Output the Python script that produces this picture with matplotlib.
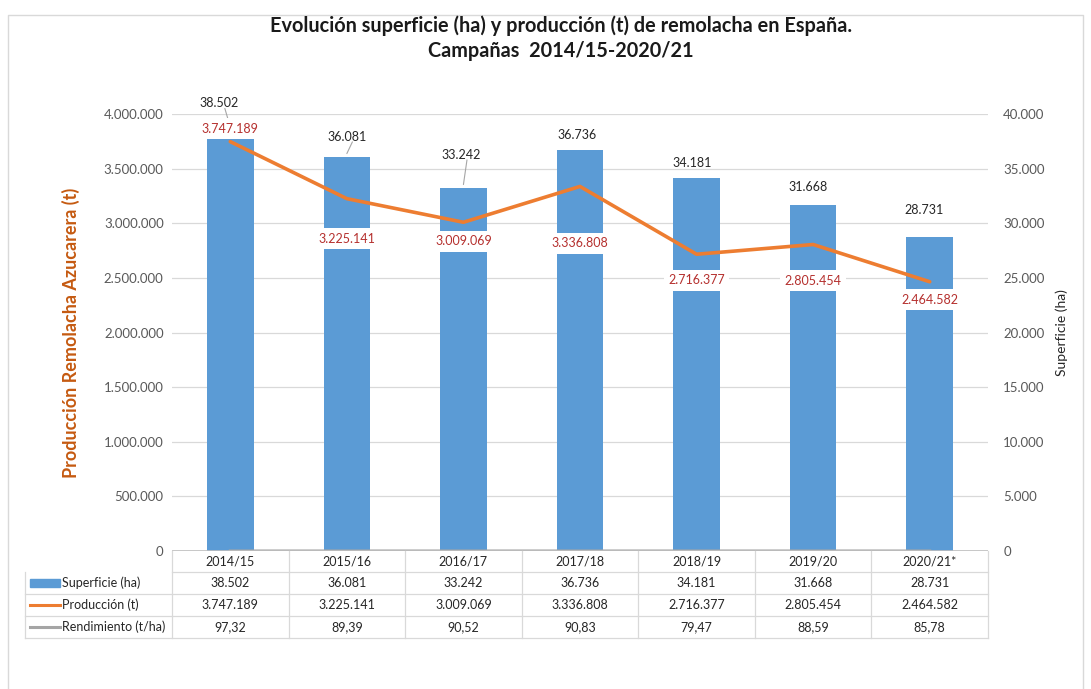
import numpy as np
import matplotlib.pyplot as plt
from matplotlib.transforms import blended_transform_factory
from matplotlib.lines import Line2D
from matplotlib.patches import Rectangle

# datos de la campaña
campanas = ['2014/15', '2015/16', '2016/17', '2017/18', '2018/19', '2019/20', '2020/21*']
superficie = [38502, 36081, 33242, 36736, 34181, 31668, 28731]          # ha
produccion = [3747189, 3225141, 3009069, 3336808, 2716377, 2805454, 2464582]  # t
rendimiento = [97.32, 89.39, 90.52, 90.83, 79.47, 88.59, 85.78]          # t/ha

# desplazamiento de etiquetas (px) tal como en el original
off_prod = [-13, 40, 19, 57, 26, 36, 18]
off_sup_y = [-27, -20, -33, -15, -15, -18, -27]
off_sup_x = [-11, 0, -2, -3, -4, -5, -6]
con_guia = [True, True, True, False, False, False, False]

AZUL = '#5B9BD5'
NARANJA = '#ED7D31'
GRIS = '#A5A5A5'
ROJO = '#B5302E'
TXT = '#595959'
W, H = 1091, 689

plt.rcParams['font.family'] = ['Lato', 'DejaVu Sans']


def miles(v):
    return f'{v:,.0f}'.replace(',', '.')


def coma(v):
    return f'{v:.2f}'.replace('.', ',')


fig = plt.figure(figsize=(W / 100, H / 100), dpi=100)
L, R, T, B = 172, 988, 114, 551
ax = fig.add_axes([L / W, 1 - B / H, (R - L) / W, (B - T) / H])
ax2 = ax.twinx()
ax.set_zorder(ax2.get_zorder() + 1)
ax.patch.set_visible(False)

x = np.arange(len(campanas))

# barras: superficie en eje derecho
ax2.bar(x, superficie, width=0.4, color=AZUL, zorder=2)
ax2.set_ylim(0, 40000)
ax2.set_yticks(np.arange(0, 40001, 5000))
ax2.set_yticklabels([miles(v) for v in np.arange(0, 40001, 5000)])
ax2.grid(axis='y', color='#D9D9D9', linewidth=0.9)
ax2.set_axisbelow(True)

# linea: produccion en eje izquierdo
ax.plot(x, produccion, color=NARANJA, linewidth=2.6, zorder=3, solid_capstyle='round')
ax.plot(x, rendimiento, color=GRIS, linewidth=2.2, zorder=3)
ax.set_ylim(0, 4000000)
ax.set_yticks(np.arange(0, 4000001, 500000))
ax.set_yticklabels([miles(v) for v in np.arange(0, 4000001, 500000)])
ax.set_xlim(-0.5, len(campanas) - 0.5)
ax.set_xticks([])

for a in (ax, ax2):
    for s in a.spines.values():
        s.set_visible(False)
    a.tick_params(axis='y', length=0, labelsize=9.5, labelcolor=TXT)
ax.tick_params(axis='y', pad=6)
ax2.tick_params(axis='y', pad=11)
ax.axhline(0, color='#BFBFBF', linewidth=1.2, zorder=4)

ax.set_ylabel('Producción Remolacha Azucarera (t)', color='#C55A11', fontsize=13,
              fontweight='bold', labelpad=17)
ax2.set_ylabel('Superficie (ha)', color='#262626', fontsize=10, labelpad=8)

# etiquetas de produccion (fondo blanco que tapa barras y linea)
for i, v in enumerate(produccion):
    ax.annotate(miles(v), (x[i], v), xytext=(0, -off_prod[i] * 0.72), textcoords='offset points',
                ha='center', va='center', fontsize=9, color=ROJO, zorder=6,
                bbox=dict(boxstyle='square,pad=0.35', fc='white', ec='none'))

# etiquetas de superficie
for i, v in enumerate(superficie):
    dx, dy = off_sup_x[i] * 0.72, -off_sup_y[i] * 0.72
    ax2.annotate(miles(v), (x[i], v), xytext=(dx, dy), textcoords='offset points',
                 ha='center', va='center', fontsize=9, color='#262626', zorder=6)
    if con_guia[i]:
        ax2.annotate('', (x[i], v + 300), xytext=(dx + 4, dy - 6), textcoords='offset points',
                     arrowprops=dict(arrowstyle='-', color='#A6A6A6', lw=0.8,
                                     shrinkA=0, shrinkB=0))

# titulo
fig.text(0.514, 1 - 26 / H, 'Evolución superficie (ha) y producción (t) de remolacha en España.',
         ha='center', va='center', fontsize=14.3, fontweight='bold', color='#1a1a1a')
fig.text(0.514, 1 - 51 / H, 'Campañas  2014/15-2020/21', ha='center', va='center',
         fontsize=14.3, fontweight='bold', color='#1a1a1a')

# tabla de datos bajo el grafico
tr = blended_transform_factory(ax.transData, fig.transFigure)
fy = lambda py: 1 - py / H
fx = lambda px: px / W
filas = [551, 572, 594, 616, 638]
linea_c = '#D9D9D9'
for k in range(1, 5):
    x0 = 25 if k > 1 else L
    fig.add_artist(Line2D([fx(x0), fx(R)], [fy(filas[k]), fy(filas[k])], color=linea_c, lw=0.9))
fig.add_artist(Line2D([fx(25), fx(25)], [fy(572), fy(638)], color=linea_c, lw=0.9))
for j in range(len(campanas) + 1):
    xb = L + j * (R - L) / len(campanas)
    fig.add_artist(Line2D([fx(xb), fx(xb)], [fy(551), fy(638)], color=linea_c, lw=0.9))

valores = [[miles(v) for v in superficie], [miles(v) for v in produccion],
           [coma(v) for v in rendimiento]]
for i, c in enumerate(campanas):
    fig.text(x[i], fy(561.5), c, transform=tr, ha='center', va='center', fontsize=9, color='#262626')
    for k in range(3):
        yc = (filas[k + 1] + filas[k + 2]) / 2
        fig.text(x[i], fy(yc), valores[k][i], transform=tr, ha='center', va='center',
                 fontsize=9, color='#262626')

nombres = ['Superficie (ha)', 'Producción (t)', 'Rendimiento (t/ha)']
for k, n in enumerate(nombres):
    yc = (filas[k + 1] + filas[k + 2]) / 2
    if k == 0:
        fig.add_artist(Rectangle((fx(30), fy(yc + 4)), fx(30), 8 / H, color=AZUL))
    else:
        fig.add_artist(Line2D([fx(30), fx(60)], [fy(yc), fy(yc)],
                              color=NARANJA if k == 1 else GRIS, lw=2.2))
    fig.text(fx(62), fy(yc), n, ha='left', va='center', fontsize=9, color='#262626')

# marco del grafico
fig.add_artist(Line2D([fx(8), fx(8), fx(1083), fx(1083)], [fy(689), fy(15), fy(15), fy(689)],
                      color='#D9D9D9', lw=1))

fig.savefig('out.png', dpi=100)
